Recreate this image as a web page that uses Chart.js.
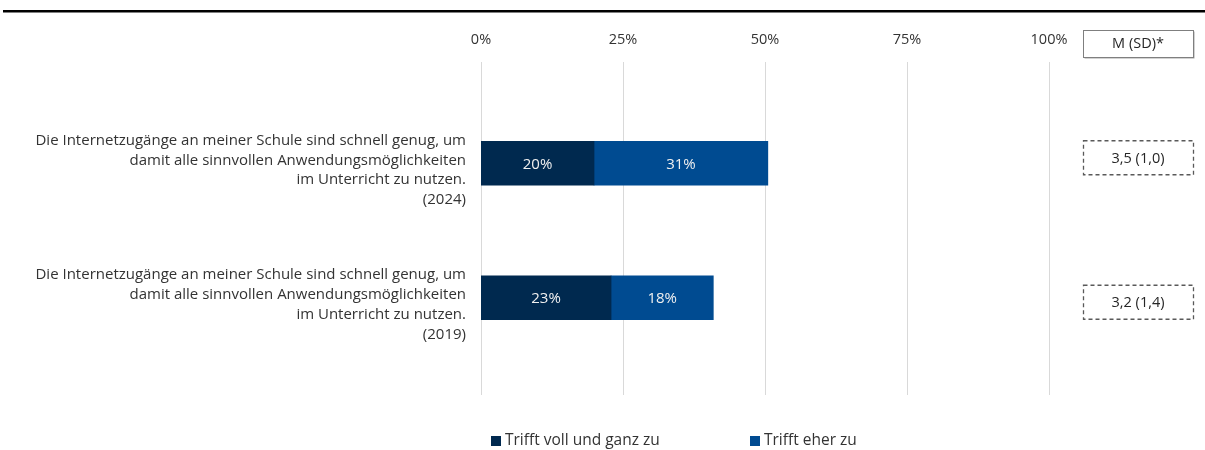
<!DOCTYPE html>
<html>
<head>
<meta charset="utf-8">
<script src="https://cdn.jsdelivr.net/npm/chart.js@4.4.1/dist/chart.umd.min.js"></script>
<style>
  body { margin: 0; background: #fff; overflow: hidden; }
  canvas { display: block; }
</style>
</head>
<body>
<canvas id="myChart" width="1205" height="450"></canvas>
<script>
// data
const categories = [
    ['Die Internetzugänge an meiner Schule sind schnell genug, um', 'damit alle sinnvollen Anwendungsmöglichkeiten', 'im Unterricht zu nutzen.', '(2024)'],
    ['Die Internetzugänge an meiner Schule sind schnell genug, um', 'damit alle sinnvollen Anwendungsmöglichkeiten', 'im Unterricht zu nutzen.', '(2019)']
];
const seriesNames = ['Trifft voll und ganz zu', 'Trifft eher zu'];
const trifftVoll = [19.9, 22.9];
const trifftEher = [30.6, 18.0];
const meanSd = ['3,5 (1,0)', '3,2 (1,4)'];
const tickValues = [0, 25, 50, 75, 100];

const FONT = '"Open Sans", "DejaVu Sans", sans-serif';
const TEXT = '#333333';
const colors = ['#00294f', '#004b91'];

const extrasPlugin = {
    id: 'extras',
    beforeDraw(chart) {
        const ctx = chart.ctx;
        ctx.save();
        ctx.fillStyle = '#000';
        ctx.fillRect(3, 10, 1202, 2.5);
        ctx.restore();
    },
    beforeDatasetsDraw(chart) {
        const {ctx, chartArea, scales} = chart;
        ctx.save();
        ctx.strokeStyle = '#d9d9d9';
        ctx.lineWidth = 1;
        scales.x.ticks.forEach(t => {
            const x = Math.round(scales.x.getPixelForValue(t.value)) + 0.5;
            ctx.beginPath();
            ctx.moveTo(x, chartArea.top - 34);
            ctx.lineTo(x, chartArea.bottom + 30);
            ctx.stroke();
        });
        ctx.restore();
    },
    afterDatasetsDraw(chart) {
        const {ctx, chartArea, scales} = chart;
        ctx.save();
        // value labels inside bars
        ctx.font = '15px ' + FONT;
        ctx.fillStyle = '#f0f0f0';
        ctx.textAlign = 'center';
        ctx.textBaseline = 'middle';
        chart.data.datasets.forEach((ds, di) => {
            const meta = chart.getDatasetMeta(di);
            meta.data.forEach((bar, i) => {
                const p = bar.getProps(['x', 'y', 'base'], true);
                ctx.fillText(Math.round(ds.data[i]) + '%', (p.x + p.base) / 2, p.y + 1);
            });
        });

        // M (SD) column
        const bx = chartArea.right + 34, bw = 110;
        ctx.fillStyle = '#a6a6a6';
        ctx.fillRect(bx + 1.5, 31.5, bw, 27);
        ctx.fillStyle = '#fff';
        ctx.fillRect(bx, 30, bw, 27);
        ctx.strokeStyle = '#7f7f7f';
        ctx.lineWidth = 1;
        ctx.strokeRect(bx + 0.5, 30.5, bw, 27);
        ctx.fillStyle = '#262626';
        ctx.font = '14.5px ' + FONT;
        ctx.fillText('M (SD)*', bx + bw / 2, 44);

        const shift = [-5.5, 4.5];
        ctx.setLineDash([4, 3]);
        ctx.strokeStyle = '#595959';
        ctx.lineWidth = 1.3;
        meanSd.forEach((txt, i) => {
            const cy = scales.y.getPixelForValue(i) + shift[i];
            ctx.strokeRect(bx + 0.5, cy - 17, bw, 34);
            ctx.fillText(txt, bx + bw / 2, cy + 1);
        });
        ctx.setLineDash([]);

        // legend
        const lx = [chartArea.left + 10, chartArea.left + 269];
        const ly = 441;
        seriesNames.forEach((name, i) => {
            ctx.fillStyle = colors[i];
            ctx.fillRect(lx[i], ly - 5, 10, 10);
            ctx.fillStyle = TEXT;
            ctx.textAlign = 'left';
            ctx.font = '15.5px ' + FONT;
            ctx.fillText(name, lx[i] + 14, ly);
        });
        ctx.restore();
    }
};

new Chart(document.getElementById('myChart').getContext('2d'), {
    type: 'bar',
    data: {
        labels: categories,
        datasets: [
            { label: seriesNames[0], data: trifftVoll, backgroundColor: colors[0], barThickness: 44 },
            { label: seriesNames[1], data: trifftEher, backgroundColor: colors[1], barThickness: 44 }
        ]
    },
    options: {
        indexAxis: 'y',
        responsive: false,
        animation: false,
        layout: { padding: { top: 0, left: 0, right: 156, bottom: 85 } },
        plugins: {
            legend: { display: false },
            tooltip: { enabled: false }
        },
        scales: {
            x: {
                position: 'top',
                stacked: true,
                min: 0,
                max: 100,
                afterBuildTicks: scale => { scale.ticks = tickValues.map(v => ({ value: v })); },
                afterFit: scale => { scale.height = 96; },
                grid: { display: false, drawTicks: false },
                border: { display: false },
                ticks: {
                    padding: 47,
                    color: TEXT,
                    font: { family: FONT, size: 14.5 },
                    callback: v => v + '%'
                }
            },
            y: {
                stacked: true,
                afterFit: scale => { scale.width = 481; },
                grid: { display: false, drawTicks: false },
                border: { display: false },
                ticks: {
                    padding: 15,
                    labelOffset: 7,
                    color: TEXT,
                    font: { family: FONT, size: 15, lineHeight: 1.33 }
                }
            }
        }
    },
    plugins: [extrasPlugin]
});
</script>
</body>
</html>
